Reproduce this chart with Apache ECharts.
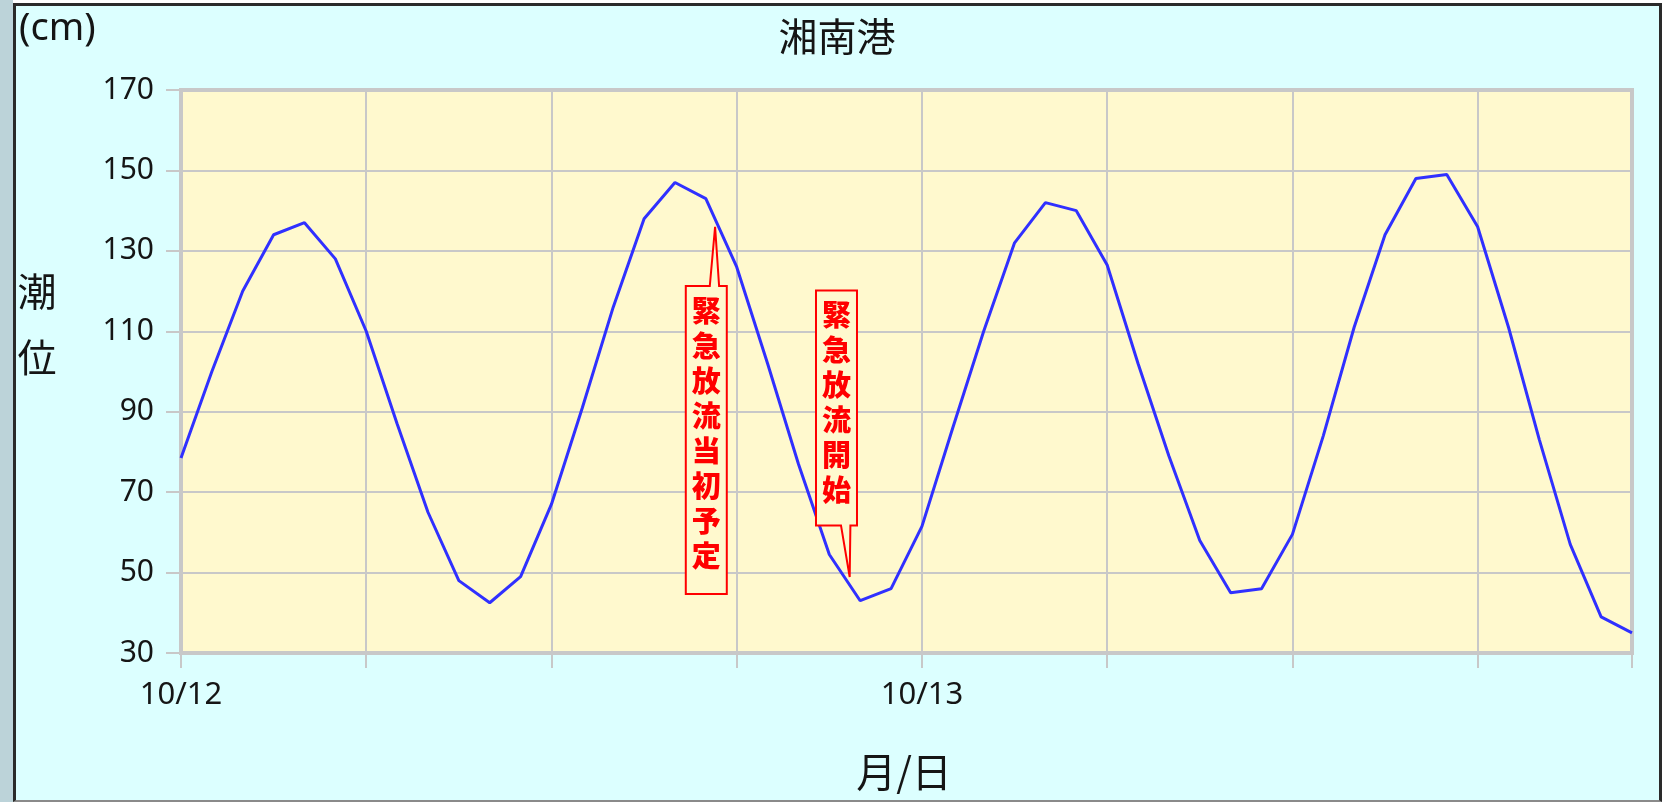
<!DOCTYPE html>
<html><head><meta charset="utf-8">
<script src="https://cdn.jsdelivr.net/npm/echarts@6/dist/echarts.min.js"></script>
<style>
html,body{margin:0;padding:0;background:#ffffff;overflow:hidden;}
#strip{position:absolute;left:0;top:0;width:13px;height:802px;background:#bcd3d9;}
#frame{position:absolute;left:13px;top:3px;width:1649px;height:799px;box-sizing:border-box;border:3px solid #2a2a2a;border-bottom:2px solid #8a8a8a;background:#dcffff;}
#c{position:absolute;left:0;top:0;width:1669px;height:802px;}
</style>
</head><body>
<div id="strip"></div><div id="frame"></div><div id="c"></div>
<script>
// ---- data ----
const hours = [0,1,2,3,4,5,6,7,8,9,10,11,12,13,14,15,16,17,18,19,20,21,22,23,
               24,25,26,27,28,29,30,31,32,33,34,35,36,37,38,39,40,41,42,43,44,45,46,47];
const tide = [78.5,100,120,134,137,128,110,87,65,48,42.5,49,67,91,116,138,147,143,126,102,77,54.5,43,46,
              61.5,86,110,132,142,140,126.5,102,79,58,45,46,59.5,84,111,134,148,149,136,111,83,57,39,35];
const dayTickHours = [0, 24];
const dayTickLabels = ['10/12', '10/13'];
const noteTexts = ['緊急放流当初予定', '緊急放流開始'];
const noteHours = [17.3, 21.66];
const noteValues = [136, 48.9];

const JP = '"Noto Sans CJK JP","Noto Sans",sans-serif';
const NUM = '"Noto Sans","DejaVu Sans",sans-serif';
const GRID = '#c8c8c8';
const INK = '#151515';

const chart = echarts.init(document.getElementById('c'), null, {renderer: 'canvas'});

const option = {
  animation: false,
  backgroundColor: 'transparent',
  grid: {
    left: 181, right: 37, top: 90, bottom: 149,
    show: true, backgroundColor: '#fff9ce', borderColor: GRID, borderWidth: 4
  },
  xAxis: {
    type: 'value', min: 0, max: 47, interval: 6,
    axisLine: {show: false},
    axisTick: {show: true, length: 15, lineStyle: {color: GRID, width: 2}},
    splitLine: {show: true, lineStyle: {color: GRID, width: 2}},
    axisLabel: {
      margin: 27, fontSize: 31, color: INK, fontFamily: NUM,
      formatter: function (v) {
        const i = dayTickHours.indexOf(v);
        return i >= 0 ? dayTickLabels[i] : '';
      }
    }
  },
  yAxis: {
    type: 'value', min: 30, max: 170, interval: 20,
    axisLine: {show: false},
    axisTick: {show: true, length: 15, lineStyle: {color: GRID, width: 2}},
    splitLine: {show: true, lineStyle: {color: GRID, width: 2}},
    axisLabel: {margin: 27, fontSize: 30, color: INK, fontFamily: NUM}
  },
  series: [{
    type: 'line',
    data: hours.map((h, i) => [h, tide[i]]),
    symbol: 'none',
    lineStyle: {color: '#3030ff', width: 3},
    z: 3
  }],
  graphic: [
    {type: 'text', left: 19, top: 10, style: {text: '(cm)', fontSize: 38, fontFamily: NUM, fill: INK}},
    {type: 'text', x: 837, y: 36, style: {text: '湘南港', fontSize: 39, fontFamily: JP, fill: INK, align: 'center', verticalAlign: 'middle'}},
    {type: 'text', x: 37, y: 258, style: {text: '潮\n位', fontSize: 39, lineHeight: 66, fontFamily: JP, fill: INK, align: 'center', verticalAlign: 'top'}},
    {type: 'text', x: 904, y: 772, style: {text: '月/日', fontSize: 40, fontFamily: JP, fill: INK, align: 'center', verticalAlign: 'middle'}}
  ]
};
chart.setOption(option);

// callouts anchored at data points through the grid's scales
const calloutGeom = [
  {L: -29.3, R: 11.7, T: 59.3, B: 367.3, bL: -5.3, bR: 4, up: true},
  {L: -33.7, R: 7.3, T: -286.6, B: -51.6, bL: -8.7, bR: 0.7, up: false}
];
const extra = [];
noteTexts.forEach((txt, i) => {
  const p = chart.convertToPixel({gridIndex: 0}, [noteHours[i], noteValues[i]]);
  const g = calloutGeom[i];
  const L = p[0] + g.L, R = p[0] + g.R, T = p[1] + g.T, B = p[1] + g.B;
  let pts;
  if (g.up) {
    pts = [[L, T], [p[0] + g.bL, T], [p[0], p[1]], [p[0] + g.bR, T], [R, T], [R, B], [L, B]];
  } else {
    pts = [[L, T], [R, T], [R, B], [p[0] + g.bR, B], [p[0], p[1]], [p[0] + g.bL, B], [L, B]];
  }
  extra.push({
    type: 'polygon', z: 100,
    shape: {points: pts},
    style: {fill: '#fff9ce', stroke: '#ff0000', lineWidth: 2}
  });
  extra.push({
    type: 'text', z: 101, x: (L + R) / 2, y: T + 7,
    style: {text: txt.split('').join('\n'), fontSize: 29, lineHeight: 35, fontWeight: 900,
            fontFamily: JP, fill: '#ff0000', align: 'center', verticalAlign: 'top'}
  });
});
chart.setOption({graphic: option.graphic.concat(extra)});
</script>
</body></html>
